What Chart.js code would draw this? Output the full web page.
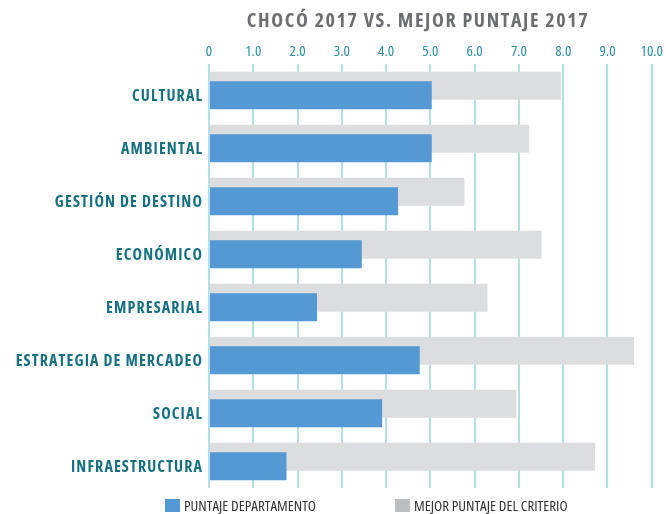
<!DOCTYPE html>
<html>
<head>
<meta charset="utf-8">
<script src="https://cdn.jsdelivr.net/npm/chart.js@4/dist/chart.umd.min.js"></script>
<style>
  body { margin: 0; background: #fff; }
  #wrap { position: relative; width: 666px; height: 514px; }
  #title {
    position: absolute; left: 170px; width: 496px; top: 6px;
    text-align: center; color: #6d6e71; letter-spacing: 1.6px;
    font-family: "Open Sans", sans-serif; font-weight: bold; font-size: 20px; font-stretch: 80%;
  }
  .legend-item {
    position: absolute; top: 497px; height: 16px; line-height: 16px;
    font-family: "Open Sans", sans-serif; font-size: 15px; font-stretch: 75%; color: #333;
  }
  .legend-item span {
    display: inline-block; width: 15px; height: 13px; vertical-align: top; margin: 2px 4px 0 0;
  }
</style>
</head>
<body>
<div id="wrap">
  <div id="title">CHOCÓ 2017 VS. MEJOR PUNTAJE 2017</div>
  <canvas id="chart"></canvas>
  <div class="legend-item" style="left:165px"><span style="background:#5499d3"></span>PUNTAJE DEPARTAMENTO</div>
  <div class="legend-item" style="left:395px"><span style="background:#bcbec0"></span>MEJOR PUNTAJE DEL CRITERIO</div>
</div>
<script>
// Criterios y puntajes
const categories = ['CULTURAL', 'AMBIENTAL', 'GESTIÓN DE DESTINO', 'ECONÓMICO', 'EMPRESARIAL', 'ESTRATEGIA DE MERCADEO', 'SOCIAL', 'INFRAESTRUCTURA'];
const puntajeDepartamento = [5.03, 5.03, 4.27, 3.45, 2.44, 4.76, 3.91, 1.75];
const mejorPuntaje = [7.95, 7.23, 5.77, 7.51, 6.29, 9.60, 6.94, 8.72];
const tickLabels = ['0', '1.0', '2.0', '3.0', '4.0', '5.0', '6.0', '7.0', '8.0', '9.0', '10.0'];

const family = '"Open Sans", sans-serif';

// grey bars sit in the upper slot, but the blue ones must be painted over them
const blueOnTop = {
    id: 'blueOnTop',
    beforeDatasetDraw(chart, args) {
        if (args.index === 1) return false;
    },
    afterDatasetsDraw(chart) {
        chart.getDatasetMeta(1).controller.draw();
    }
};

// a bit of tracking on the category names only
const spacedCategories = {
    id: 'spacedCategories',
    afterUpdate(chart) {
        const scale = chart.scales.y;
        if (scale._spaced) return;
        const drawLabels = scale.drawLabels.bind(scale);
        scale.drawLabels = (area) => {
            chart.ctx.letterSpacing = '1.1px';
            drawLabels(area);
            chart.ctx.letterSpacing = '0px';
        };
        scale._spaced = true;
    }
};

const ctx = document.getElementById('chart').getContext('2d');
new Chart(ctx, {
    type: 'bar',
    data: {
        labels: categories,
        datasets: [{
            label: 'MEJOR PUNTAJE DEL CRITERIO',
            data: mejorPuntaje,
            backgroundColor: '#dcdddf'
        }, {
            label: 'PUNTAJE DEPARTAMENTO',
            data: puntajeDepartamento,
            backgroundColor: '#5499d3'
        }]
    },
    options: {
        indexAxis: 'y',
        responsive: true,
        maintainAspectRatio: false,
        animation: false,
        categoryPercentage: 0.359,
        barPercentage: 2.95,
        layout: { padding: { left: 4, right: 12, top: 40, bottom: 26 } },
        plugins: {
            legend: { display: false },
            tooltip: { enabled: false }
        },
        scales: {
            x: {
                position: 'top',
                min: 0,
                max: 10,
                border: { display: false },
                grid: { color: '#b2e0e6', lineWidth: 2, drawTicks: false },
                ticks: {
                    stepSize: 1,
                    padding: 3,
                    color: '#2f8e9e',
                    // condensed width comes through the weight slot of the font string
                    font: { family: family, size: 15, weight: 'condensed' },
                    callback: (value, index) => tickLabels[index]
                }
            },
            y: {
                border: { display: false },
                grid: { display: false, drawTicks: false },
                afterFit(scale) { scale.width = 205; },
                ticks: {
                    padding: 6,
                    labelOffset: 6,
                    color: '#17707e',
                    font: { family: family, size: 16, weight: 'bold condensed' }
                }
            }
        }
    },
    plugins: [blueOnTop, spacedCategories]
});
</script>
</body>
</html>
